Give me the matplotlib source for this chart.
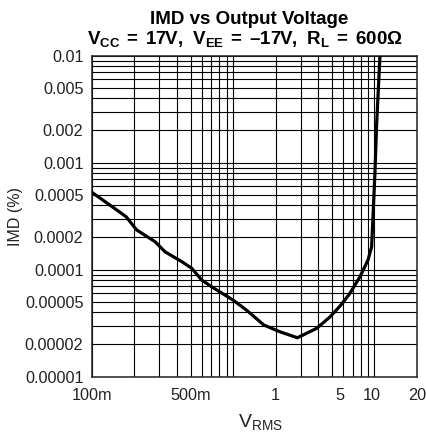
import numpy as np
import matplotlib.pyplot as plt
from matplotlib.ticker import FixedLocator, FixedFormatter, NullFormatter

plt.rcParams['font.family'] = ['Liberation Sans', 'DejaVu Sans']
plt.rcParams['mathtext.fontset'] = 'custom'
plt.rcParams['mathtext.rm'] = 'Liberation Sans'
plt.rcParams['mathtext.bf'] = 'Liberation Sans:bold'

# output voltage (V rms) and IMD (%)
vrms = [0.1, 0.135, 0.175, 0.208, 0.28, 0.33, 0.433, 0.51, 0.6, 0.72, 1.0, 1.24,
        1.65, 2.14, 2.85, 3.9, 4.82, 5.8, 6.7, 7.9, 9.0, 9.55, 10.08, 10.37, 10.94]
imd = [5.3e-4, 4.0e-4, 3.13e-4, 2.35e-4, 1.83e-4, 1.47e-4, 1.19e-4, 1.03e-4, 8.0e-5,
       6.8e-5, 5.2e-5, 4.2e-5, 3.04e-5, 2.63e-5, 2.31e-5, 2.83e-5, 3.59e-5, 4.68e-5,
       6.0e-5, 8.6e-5, 1.23e-4, 1.64e-4, 8.0e-4, 2.35e-3, 1e-2]

xtick_pos = [0.1, 0.5, 2.0, 5.7, 9.6, 20]
xtick_text = ['100m', '500m', '1', '5', '10', '20']
ytick_pos = [1e-5, 2e-5, 5e-5, 1e-4, 2e-4, 5e-4, 1e-3, 2e-3, 5e-3, 1e-2]
ytick_text = ['0.00001', '0.00002', '0.00005', '0.0001', '0.0002', '0.0005',
              '0.001', '0.002', '0.005', '0.01']

# log grid lines: 1..9 in every decade
xgrid = [m * 10.0 ** e for e in (-1, 0) for m in range(1, 10)] + [10, 20]
ygrid = [m * 10.0 ** e for e in (-5, -4, -3) for m in range(1, 10)] + [1e-2]

fig = plt.figure(figsize=(4.27, 4.42), dpi=100)
ax = fig.add_axes([0.2148, 0.1478, 0.7618, 0.7262])

ax.plot(vrms, imd, color='black', linewidth=2.3, solid_joinstyle='round', zorder=3)

ax.set_xscale('log')
ax.set_yscale('log')
ax.set_xlim(0.1, 20)
ax.set_ylim(1e-5, 1e-2)

ax.xaxis.set_major_locator(FixedLocator(xtick_pos))
ax.xaxis.set_major_formatter(FixedFormatter(xtick_text))
ax.yaxis.set_major_locator(FixedLocator(ytick_pos))
ax.yaxis.set_major_formatter(FixedFormatter(ytick_text))
ax.xaxis.set_minor_locator(FixedLocator(xgrid))
ax.yaxis.set_minor_locator(FixedLocator(ygrid))
ax.xaxis.set_minor_formatter(NullFormatter())
ax.yaxis.set_minor_formatter(NullFormatter())
ax.xaxis.remove_overlapping_locs = False
ax.yaxis.remove_overlapping_locs = False

ax.grid(True, which='minor', color='black', linewidth=0.8)
ax.grid(False, which='major')
ax.tick_params(which='both', length=0, colors='#222222')
ax.tick_params(axis='x', pad=8)
ax.tick_params(axis='y', pad=6)
for lbl in ax.get_xticklabels() + ax.get_yticklabels():
    lbl.set_fontsize(11.7)

for s in ax.spines.values():
    s.set_linewidth(1.1)
    s.set_color('#222222')

ax.set_xlabel(r'$\mathregular{V_{RMS}}$', fontsize=14, color='#222222')
ax.xaxis.set_label_coords(0.52, -0.11)
ax.set_ylabel('IMD (%)', fontsize=11.5, color='#222222')
ax.yaxis.set_label_coords(-0.21, 0.5)

fig.text(0.583, 0.957, 'IMD vs Output Voltage', ha='center', va='center',
         fontsize=13.5, fontweight='bold')
fig.text(0.574, 0.912,
         r'$\mathbf{V_{CC}\:=\:17V,\ V_{EE}\:=\:–17V,\ R_{L}\:=\:600Ω}$',
         ha='center', va='center', fontsize=13.5)

fig.savefig('out.png', dpi=100)
